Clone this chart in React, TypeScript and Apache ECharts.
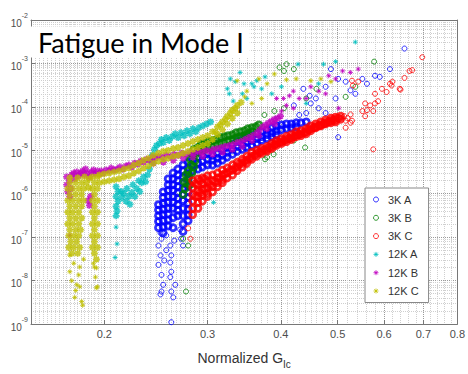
import { useEffect, useRef } from 'react';
import * as echarts from 'echarts';

type Pt = [number, number];

const seriesNames = ['3K A', '3K B', '3K C', '12K A', '12K B', '12K C'];
const seriesColors = ['#0000ff', '#008000', '#ff0000', '#00bfbf', '#bf00bf', '#bfbf00'];
const xTickValues = [0.2, 0.3, 0.4, 0.5, 0.6, 0.7, 0.8];
const yTickValues = [1e-9, 1e-8, 1e-7, 1e-6, 1e-5, 1e-4, 1e-3, 1e-2];
const xMin = 0.15;
const xMax = 0.8;
const yMin = 1e-9;
const yMax = 1e-2;

// ---------- 3K A (blue circles) ----------
const k3aSparse: Pt[] = [
  [0.2474, 2.3e-7], [0.2494, 1.25e-7], [0.2504, 9.2e-8], [0.2474, 6.4e-8], [0.2494, 3.8e-8], [0.2474, 2.3e-8],
  [0.2504, 1.35e-8], [0.252, 8.0e-9], [0.2504, 5.6e-9], [0.2494, 4.8e-9], [0.2551, 5.0e-8], [0.2592, 6.4e-8],
  [0.2602, 3.8e-8], [0.2592, 2.6e-8], [0.2602, 1.6e-8], [0.2592, 1.2e-8], [0.2643, 8.0e-9], [0.2602, 5.6e-9],
  [0.2622, 4.1e-9], [0.2602, 1.1e-9], [0.2694, 1.5e-7], [0.2704, 9.2e-8], [0.2725, 6.4e-8], [0.2551, 1.1e-7],
  [0.2632, 8.3e-8], [0.2531, 2.9e-8],
  [0.501, 4.4e-4], [0.516, 3.8e-4], [0.551, 4.4e-4], [0.579, 5.2e-4], [0.614, 7.4e-4], [0.65, 2.2e-3],
  [0.496, 1.56e-4], [0.501, 2.0e-5], [0.437, 2.6e-4], [0.448, 1.8e-4], [0.464, 9.3e-5], [0.421, 1.08e-4],
  [0.43, 6.5e-5], [0.459, 1.56e-4], [0.477, 2.9e-4], [0.526, 2.4e-4], [0.536, 2.0e-4], [0.561, 3.4e-4],
  [0.59, 4.9e-4], [0.477, 7.2e-5], [0.45, 1.2e-4], [0.487, 7.4e-4], [0.442, 7.2e-5],
];
const k3aDense: Pt[] = [
  [0.2474, 5.6e-7], [0.2474, 4.2e-7], [0.2474, 3.1e-7], [0.2474, 2.3e-7], [0.2474, 1.65e-7],
  [0.252, 1.1e-6], [0.252, 8.2e-7], [0.252, 6.0e-7], [0.252, 4.4e-7], [0.252, 3.3e-7], [0.252, 2.4e-7], [0.252, 1.7e-7], [0.252, 1.25e-7],
  [0.257, 2.2e-6], [0.257, 1.6e-6], [0.257, 1.2e-6], [0.257, 8.6e-7], [0.257, 6.4e-7], [0.257, 4.6e-7], [0.257, 3.4e-7], [0.257, 2.5e-7], [0.257, 1.8e-7],
  [0.262, 3.0e-6], [0.262, 2.2e-6], [0.262, 1.6e-6], [0.262, 1.2e-6], [0.262, 8.6e-7], [0.262, 6.4e-7], [0.262, 4.6e-7], [0.262, 2.8e-7], [0.262, 1.65e-7],
  [0.267, 3.7e-6], [0.267, 2.7e-6], [0.267, 2.0e-6], [0.267, 1.45e-6], [0.267, 1.05e-6], [0.267, 7.8e-7], [0.267, 5.6e-7], [0.267, 4.2e-7], [0.267, 3.1e-7],
  [0.2725, 4.6e-6], [0.2725, 3.4e-6], [0.2725, 2.4e-6], [0.2725, 1.8e-6], [0.2725, 1.3e-6], [0.2725, 9.6e-7], [0.2725, 7.0e-7], [0.2725, 4.6e-7], [0.2725, 3.1e-7], [0.2725, 2.0e-7], [0.2725, 1.35e-7],
  [0.278, 5.3e-6], [0.278, 3.9e-6], [0.278, 2.9e-6], [0.278, 2.1e-6], [0.278, 1.5e-6], [0.278, 1.1e-6], [0.278, 8.2e-7], [0.278, 6.0e-7], [0.278, 4.4e-7], [0.278, 3.25e-7], [0.278, 2.4e-7],
  [0.283, 6.2e-6], [0.283, 4.6e-6], [0.283, 3.4e-6],
  [0.289, 6.9e-6], [0.289, 5.0e-6], [0.289, 3.7e-6],
  [0.294, 7.7e-6], [0.294, 5.6e-6], [0.294, 4.1e-6],
  [0.3, 8.5e-6], [0.3, 6.2e-6], [0.3, 4.6e-6],
  [0.306, 7.7e-6], [0.306, 5.92e-6], [0.306, 4.56e-6],
  [0.312, 8.5e-6], [0.312, 6.57e-6], [0.312, 5.06e-6],
  [0.318, 9.95e-6], [0.318, 7.7e-6], [0.318, 5.92e-6],
  [0.324, 1.16e-5], [0.324, 8.97e-6], [0.324, 6.92e-6],
  [0.331, 1.36e-5], [0.331, 1.05e-5], [0.331, 8.1e-6],
  [0.337, 1.59e-5], [0.337, 1.23e-5], [0.337, 9.45e-6],
  [0.344, 1.77e-5], [0.344, 1.36e-5], [0.344, 1.05e-5],
  [0.35, 1.96e-5], [0.35, 1.51e-5], [0.35, 1.16e-5],
  [0.357, 2.17e-5], [0.357, 1.68e-5], [0.357, 1.29e-5],
  [0.364, 2.41e-5], [0.364, 1.86e-5], [0.364, 1.43e-5],
  [0.371, 2.68e-5], [0.371, 2.06e-5], [0.371, 1.68e-5],
  [0.379, 2.97e-5], [0.379, 2.29e-5], [0.379, 1.86e-5],
  [0.386, 3.3e-5], [0.386, 2.54e-5], [0.386, 2.06e-5],
  [0.393, 3.65e-5], [0.393, 2.82e-5], [0.393, 2.29e-5],
  [0.401, 3.85e-5], [0.401, 2.97e-5],
  [0.409, 4.05e-5], [0.409, 3.13e-5],
  [0.417, 4.05e-5], [0.417, 3.3e-5],
  [0.425, 4.3e-5], [0.425, 3.47e-5],
  [0.433, 4.3e-5], [0.442, 4.5e-5],
];

// ---------- 3K B (green circles) ----------
const k3bSparse: Pt[] = [
  [0.2757, 5.6e-9], [0.2725, 9.2e-8], [0.278, 6.4e-8], [0.376, 6.2e-6], [0.3889, 8.1e-6], [0.44, 1.16e-5],
  [0.421, 1.68e-5], [0.375, 6.5e-5], [0.39, 8.0e-5], [0.398, 8.1e-4], [0.409, 9.6e-4], [0.421, 7.4e-4],
  [0.405, 6.7e-4], [0.577, 1.1e-3], [0.536, 2.9e-4], [0.442, 1.56e-4], [0.516, 1.7e-4], [0.379, 6.9e-6],
  [0.405, 9.3e-5], [0.46, 2.6e-4],
];
const k3bDense: Pt[] = [
  [0.2725, 9.6e-7], [0.2746, 1.31e-6], [0.2767, 1.79e-6], [0.2789, 2.44e-6], [0.278, 3.34e-6], [0.2811, 4.56e-6],
  [0.28, 6.24e-6], [0.283, 7.7e-6], [0.2843, 1.05e-5], [0.2876, 8.5e-6], [0.289, 1.16e-5], [0.2854, 5.62e-6],
  [0.2822, 3.0e-6], [0.2757, 2.71e-6], [0.2736, 1.88e-6], [0.28, 1.61e-6], [0.2843, 4.11e-6],
  [0.2924, 1.36e-5], [0.2924, 1.0e-5], [0.2967, 1.43e-5], [0.2967, 1.05e-5], [0.3012, 1.59e-5], [0.3012, 1.16e-5],
  [0.306, 1.68e-5], [0.306, 1.23e-5], [0.3108, 1.77e-5], [0.3108, 1.36e-5], [0.3157, 1.96e-5], [0.3157, 1.43e-5],
  [0.3205, 2.06e-5], [0.3205, 1.51e-5], [0.3253, 2.17e-5], [0.3253, 1.68e-5], [0.331, 2.29e-5], [0.331, 1.77e-5],
  [0.3357, 2.54e-5], [0.3357, 1.96e-5], [0.3413, 2.68e-5], [0.3413, 2.06e-5], [0.3467, 2.82e-5], [0.3467, 2.17e-5],
  [0.3514, 3.13e-5], [0.3514, 2.41e-5], [0.357, 3.3e-5], [0.357, 2.68e-5], [0.3628, 3.47e-5], [0.367, 3.85e-5],
];

// ---------- 3K C (red circles) ----------
const k3cSparse: Pt[] = [
  [0.2805, 9.2e-8], [0.278, 1.6e-7], [0.697, 1.39e-3], [0.67, 7.0e-4], [0.65, 4.65e-4], [0.64, 2.5e-4],
  [0.62, 3.8e-4], [0.614, 3.4e-4], [0.606, 2.2e-4], [0.595, 2.6e-4], [0.579, 2.0e-4], [0.586, 1.35e-4],
  [0.579, 1.2e-4], [0.568, 1.08e-4], [0.557, 1.2e-4], [0.561, 8.4e-5], [0.551, 8.0e-5], [0.557, 6.1e-5],
  [0.575, 8.0e-5], [0.526, 4.3e-5], [0.516, 3.3e-5], [0.575, 1.05e-5], [0.542, 3.8e-4], [0.531, 3.1e-4],
  [0.529, 4.0e-4], [0.638, 2.6e-4], [0.663, 6.7e-4], [0.516, 4.8e-5], [0.529, 4.8e-5], [0.618, 3.1e-4],
  [0.513, 6.1e-5], [0.52, 5.5e-5], [0.526, 6.7e-5],
];
const k3cDense: Pt[] = [
  [0.283, 2.0e-6], [0.283, 1.38e-6], [0.283, 9.5e-7], [0.283, 6.7e-7], [0.283, 4.6e-7], [0.283, 3.3e-7],
  [0.286, 1.7e-6], [0.286, 8.6e-7],
  [0.289, 2.2e-6], [0.289, 1.6e-6], [0.289, 1.2e-6], [0.289, 8.6e-7], [0.289, 6.3e-7], [0.289, 4.6e-7],
  [0.2915, 1.99e-6], [0.2915, 1.06e-6],
  [0.294, 2.3e-6], [0.294, 1.7e-6], [0.294, 1.25e-6], [0.294, 9.1e-7], [0.294, 6.7e-7],
  [0.297, 2.2e-6], [0.297, 1.31e-6],
  [0.3, 2.6e-6], [0.3, 1.9e-6], [0.3, 1.38e-6], [0.3, 1.0e-6], [0.3, 8.6e-7],
  [0.303, 1.61e-6],
  [0.306, 2.7e-6], [0.306, 2.0e-6], [0.306, 1.45e-6], [0.306, 1.1e-6],
  [0.309, 1.88e-6],
  [0.312, 3.0e-6], [0.312, 2.3e-6], [0.312, 1.8e-6], [0.312, 1.45e-6],
  [0.315, 2.32e-6],
  [0.318, 3.5e-6], [0.318, 2.7e-6], [0.318, 2.1e-6], [0.318, 1.8e-6],
  [0.321, 2.86e-6],
  [0.324, 3.9e-6], [0.324, 3.0e-6], [0.324, 2.3e-6],
  [0.327, 3.34e-6],
  [0.331, 4.6e-6], [0.331, 3.5e-6], [0.331, 2.7e-6],
  [0.334, 3.9e-6],
  [0.337, 5.3e-6], [0.337, 4.1e-6], [0.337, 3.4e-6],
  [0.34, 4.81e-6],
  [0.344, 6.2e-6], [0.344, 5.0e-6], [0.344, 4.1e-6],
  [0.347, 5.62e-6],
  [0.35, 7.3e-6], [0.35, 5.9e-6], [0.35, 5.0e-6],
  [0.354, 6.57e-6],
  [0.357, 9.0e-6], [0.357, 7.3e-6], [0.357, 6.2e-6],
  [0.361, 7.7e-6],
  [0.364, 1.0e-5], [0.364, 8.5e-6], [0.364, 7.3e-6],
  [0.368, 8.97e-6],
  [0.371, 1.1e-5], [0.371, 9.5e-6], [0.371, 8.5e-6],
  [0.375, 1.02e-5],
  [0.379, 1.22e-5], [0.379, 1.05e-5], [0.379, 9.5e-6],
  [0.382, 1.16e-5],
  [0.386, 1.43e-5], [0.386, 1.22e-5], [0.386, 1.1e-5],
  [0.39, 1.33e-5],
  [0.393, 1.66e-5], [0.393, 1.43e-5], [0.393, 1.29e-5],
  [0.397, 1.51e-5],
  [0.401, 1.86e-5], [0.401, 1.58e-5], [0.401, 1.43e-5],
  [0.405, 1.68e-5],
  [0.409, 2.1e-5], [0.409, 1.8e-5], [0.409, 1.58e-5],
  [0.413, 1.86e-5],
  [0.417, 2.29e-5], [0.417, 1.96e-5], [0.417, 1.77e-5],
  [0.421, 2.06e-5],
  [0.425, 2.68e-5], [0.425, 2.29e-5], [0.425, 2.06e-5],
  [0.429, 2.29e-5],
  [0.433, 2.82e-5], [0.433, 2.41e-5], [0.433, 2.17e-5],
  [0.438, 2.54e-5],
  [0.442, 3.13e-5], [0.442, 2.68e-5], [0.442, 2.41e-5],
  [0.446, 2.97e-5],
  [0.45, 3.65e-5], [0.45, 3.13e-5], [0.45, 2.82e-5],
  [0.455, 3.3e-5],
  [0.459, 4.05e-5], [0.459, 3.47e-5], [0.459, 3.3e-5],
  [0.464, 3.65e-5],
  [0.468, 4.5e-5], [0.468, 3.85e-5], [0.468, 3.65e-5],
  [0.473, 4.05e-5],
  [0.477, 5.0e-5], [0.477, 4.3e-5], [0.477, 4.05e-5],
  [0.482, 4.5e-5],
  [0.487, 5.5e-5], [0.487, 4.7e-5], [0.487, 4.3e-5],
  [0.491, 5.0e-5],
  [0.496, 5.8e-5], [0.496, 5.0e-5], [0.496, 4.5e-5],
  [0.501, 5.5e-5],
  [0.506, 6.1e-5], [0.506, 5.2e-5],
];

// ---------- 12K A (cyan stars) ----------
const k12aSparse: Pt[] = [
  [0.2095, 1.7e-7], [0.2103, 7.0e-8], [0.2087, 3.4e-8], [0.3072, 6.3e-7], [0.3281, 4.4e-4], [0.3345, 3.8e-4],
  [0.3268, 2.0e-4], [0.3409, 6.2e-4], [0.3462, 3.4e-4], [0.35, 1.56e-4], [0.36, 2.9e-4], [0.364, 4.0e-4],
  [0.428, 9.6e-4], [0.464, 3.4e-4], [0.473, 9.6e-4], [0.496, 1.1e-3], [0.536, 3.1e-3], [0.371, 2.6e-4],
  [0.386, 2.0e-4], [0.401, 2.9e-4], [0.3319, 1.36e-4], [0.344, 2.0e-4], [0.376, 4.9e-4], [0.442, 1.2e-4],
  [0.3243, 2.6e-4], [0.357, 3.4e-4],
];
const k12aDense: Pt[] = [
  [0.2095, 1.45e-6], [0.2111, 1.12e-6], [0.2095, 8.6e-7], [0.2111, 6.7e-7], [0.2095, 5.1e-7], [0.2103, 4.0e-7],
  [0.2095, 3.1e-7], [0.2136, 1.12e-6], [0.2144, 8.2e-7], [0.2161, 1.01e-6], [0.2178, 6.7e-7], [0.2186, 1.31e-6],
  [0.2203, 8.6e-7], [0.2212, 5.7e-7], [0.2229, 1.06e-6], [0.2238, 1.61e-6], [0.2255, 8.6e-7], [0.2272, 1.31e-6],
  [0.229, 1.99e-6], [0.2299, 1.12e-6], [0.2317, 1.79e-6], [0.2334, 2.44e-6], [0.2352, 1.88e-6], [0.2371, 2.71e-6],
  [0.2389, 3.71e-6], [0.2408, 5.33e-6], [0.2417, 7.7e-6], [0.2436, 1.05e-5], [0.2455, 1.29e-5], [0.2484, 1.43e-5],
  [0.2503, 1.77e-5], [0.2522, 1.51e-5], [0.2551, 1.96e-5], [0.2581, 1.68e-5], [0.2612, 2.06e-5], [0.2642, 2.41e-5],
  [0.2673, 1.96e-5], [0.2704, 2.54e-5], [0.2736, 2.17e-5], [0.2767, 2.82e-5], [0.28, 2.41e-5], [0.2832, 3.13e-5],
  [0.2865, 2.68e-5], [0.2899, 3.3e-5], [0.2944, 3.65e-5], [0.299, 4.05e-5], [0.3036, 4.5e-5],
];

// ---------- 12K B (purple stars) ----------
const k12bSparse: Pt[] = [
  [0.1747, 1.1e-7], [0.4828, 5.2e-4], [0.5257, 6.2e-4], [0.5422, 7.4e-4], [0.5019, 9.3e-5], [0.4042, 1.56e-4],
  [0.4089, 1.08e-4], [0.4137, 1.8e-4], [0.4202, 9.3e-5], [0.4418, 1.56e-4], [0.4645, 2.3e-4], [0.4961, 4.4e-4],
  [0.5098, 6.7e-4], [0.3934, 1.56e-4], [0.4011, 8.0e-5], [0.4202, 2.3e-4], [0.43, 1.56e-4], [0.45, 2.9e-4],
  [0.477, 2.0e-4],
];
const k12bDense: Pt[] = [
  [0.1726, 2.44e-6], [0.1726, 1.61e-6], [0.1733, 1.12e-6], [0.1747, 8.6e-7], [0.1754, 1.31e-6], [0.1747, 1.99e-6],
  [0.176, 2.71e-6], [0.1774, 3.0e-6], [0.1781, 2.2e-6], [0.1795, 3.17e-6], [0.1809, 2.58e-6], [0.1823, 3.0e-6],
  [0.1837, 3.34e-6], [0.1851, 2.71e-6], [0.1858, 3.71e-6], [0.1873, 3.0e-6], [0.1887, 2.44e-6], [0.188, 7.0e-7],
  [0.1887, 5.4e-7], [0.1895, 8.6e-7], [0.1902, 3.17e-6], [0.1917, 3.52e-6], [0.1932, 2.86e-6], [0.1947, 3.34e-6],
  [0.1962, 2.86e-6], [0.1977, 3.34e-6], [0.1992, 3.0e-6], [0.2016, 3.52e-6], [0.2039, 3.34e-6], [0.2055, 3.9e-6],
  [0.2079, 3.52e-6], [0.2103, 3.71e-6], [0.2127, 4.11e-6], [0.2152, 3.71e-6], [0.2178, 4.33e-6], [0.2203, 4.56e-6],
  [0.2229, 4.11e-6], [0.2255, 5.06e-6], [0.2281, 4.81e-6], [0.2308, 5.62e-6], [0.2334, 5.33e-6], [0.2362, 6.24e-6],
  [0.2389, 5.92e-6], [0.2417, 6.92e-6], [0.2445, 6.57e-6], [0.2474, 7.3e-6], [0.2512, 6.92e-6], [0.2551, 7.7e-6],
  [0.2591, 7.3e-6], [0.2632, 8.1e-6], [0.2673, 7.7e-6], [0.2715, 8.5e-6], [0.2757, 8.1e-6], [0.28, 8.97e-6],
  [0.2843, 8.5e-6], [0.2888, 9.45e-6], [0.2933, 8.97e-6], [0.2978, 9.95e-6], [0.3024, 9.45e-6], [0.3072, 1.05e-5],
  [0.312, 1.1e-5], [0.3169, 1.16e-5], [0.3218, 1.23e-5], [0.3268, 1.29e-5], [0.3319, 1.36e-5], [0.3371, 1.51e-5],
  [0.3423, 1.59e-5], [0.3477, 1.77e-5], [0.3531, 1.96e-5], [0.3586, 2.17e-5], [0.3642, 2.54e-5], [0.3684, 2.97e-5],
  [0.3727, 3.47e-5], [0.3771, 3.85e-5], [0.3815, 4.3e-5], [0.3859, 4.7e-5], [0.3904, 5.2e-5], [0.3949, 5.5e-5],
  [0.3995, 6.1e-5],
  [0.2426, 5.06e-6], [0.2522, 5.33e-6], [0.2622, 5.92e-6], [0.2725, 6.57e-6], [0.2832, 6.92e-6], [0.2944, 7.3e-6],
  [0.306, 8.1e-6], [0.3181, 8.97e-6], [0.3306, 1.05e-5], [0.3436, 1.23e-5], [0.3572, 1.68e-5], [0.367, 2.17e-5],
  [0.3785, 3.13e-5], [0.3904, 4.05e-5],
];

// ---------- 12K C (olive-yellow stars) ----------
const k12cSparse: Pt[] = [
  [0.1747, 3.82e-8], [0.1816, 2.05e-8], [0.176, 9.9e-9], [0.1795, 8.0e-9], [0.1816, 7.2e-9], [0.1781, 4.1e-9],
  [0.183, 3.3e-9], [0.1837, 2.7e-9], [0.1774, 2.5e-8], [0.1809, 1.35e-8], [0.1747, 1.6e-8], [0.1844, 3.1e-8],
  [0.1788, 5.9e-9], [0.1924, 2.05e-8], [0.1939, 1.95e-8], [0.1947, 7.2e-9], [0.1939, 6.8e-9], [0.1932, 1.2e-8],
  [0.1917, 2.5e-8],
  [0.337, 4.0e-4], [0.35, 2.3e-4], [0.367, 4.4e-4], [0.39, 5.7e-4], [0.409, 4.2e-4], [0.425, 4.4e-4],
  [0.45, 4.0e-4], [0.468, 4.4e-4], [0.487, 3.8e-4], [0.371, 1.56e-4], [0.357, 1.2e-4], [0.379, 3.4e-4],
  [0.347, 1.7e-4],
];
const k12cDense: Pt[] = [
  [0.1747, 2.32e-6], [0.1802, 2.32e-6], [0.1851, 2.44e-6], [0.1887, 2.2e-6], [0.1866, 1.79e-6], [0.188, 1.38e-6],
  [0.1747, 1.79e-6], [0.1788, 1.79e-6], [0.183, 1.79e-6],
  [0.1733, 1.31e-6], [0.1767, 1.31e-6], [0.1809, 1.31e-6], [0.1844, 1.31e-6],
  [0.1747, 9.6e-7], [0.1788, 9.6e-7], [0.183, 9.6e-7],
  [0.1733, 7.0e-7], [0.1767, 7.0e-7], [0.1809, 7.0e-7], [0.1844, 7.0e-7],
  [0.1747, 5.14e-7], [0.1788, 5.14e-7], [0.183, 5.14e-7],
  [0.1733, 3.76e-7], [0.1767, 3.76e-7], [0.1809, 3.76e-7],
  [0.1747, 2.76e-7], [0.1788, 2.76e-7], [0.183, 2.76e-7],
  [0.1733, 2.02e-7], [0.1767, 2.02e-7], [0.1809, 2.02e-7],
  [0.1747, 1.48e-7], [0.1788, 1.48e-7], [0.1823, 1.48e-7],
  [0.174, 1.08e-7], [0.1774, 1.08e-7], [0.1809, 1.08e-7],
  [0.1754, 7.9e-8], [0.1795, 7.9e-8],
  [0.174, 5.8e-8], [0.1774, 5.8e-8], [0.1816, 5.8e-8],
  [0.176, 4.24e-8], [0.1802, 4.24e-8],
  [0.1909, 2.44e-6], [0.1947, 2.44e-6], [0.1924, 1.79e-6], [0.1909, 1.31e-6], [0.1947, 1.31e-6], [0.1924, 9.6e-7],
  [0.1909, 7.0e-7], [0.1947, 7.0e-7], [0.1924, 5.14e-7], [0.1909, 3.76e-7], [0.1947, 3.76e-7], [0.1924, 2.76e-7],
  [0.1909, 2.02e-7], [0.1947, 2.02e-7], [0.1924, 1.48e-7], [0.1909, 1.08e-7], [0.1947, 1.08e-7], [0.1924, 7.9e-8],
  [0.1909, 5.8e-8], [0.1947, 5.8e-8], [0.1924, 4.24e-8], [0.1939, 3.1e-8],
  [0.1962, 2.71e-6], [0.1962, 1.79e-6], [0.2, 2.86e-6], [0.2, 1.88e-6], [0.2039, 3.0e-6], [0.2039, 1.99e-6],
  [0.2079, 3.17e-6], [0.2079, 2.09e-6], [0.2119, 3.34e-6], [0.2119, 2.2e-6], [0.2161, 3.71e-6], [0.2161, 2.44e-6],
  [0.2203, 3.9e-6], [0.2203, 2.58e-6], [0.2246, 4.56e-6], [0.2246, 3.0e-6], [0.229, 5.06e-6], [0.229, 3.34e-6],
  [0.2334, 5.92e-6], [0.2334, 3.9e-6], [0.238, 6.57e-6], [0.238, 4.33e-6], [0.2426, 7.7e-6], [0.2426, 5.06e-6],
  [0.2474, 8.5e-6], [0.2474, 5.62e-6], [0.2522, 9.45e-6], [0.2522, 6.24e-6], [0.2571, 9.95e-6], [0.2571, 6.57e-6],
  [0.2622, 1.1e-5], [0.2622, 7.3e-6], [0.2673, 1.16e-5], [0.2673, 7.7e-6], [0.2725, 1.29e-5], [0.2725, 8.5e-6],
  [0.2778, 1.43e-5], [0.2778, 9.45e-6], [0.2832, 1.59e-5], [0.2832, 1.05e-5], [0.2888, 1.77e-5], [0.2888, 1.16e-5],
  [0.2944, 1.96e-5], [0.2944, 1.29e-5], [0.3001, 2.17e-5], [0.3001, 1.43e-5], [0.306, 2.68e-5], [0.306, 1.77e-5],
  [0.312, 3.47e-5], [0.312, 2.29e-5], [0.3181, 4.5e-5], [0.3181, 2.97e-5], [0.3243, 6.1e-5], [0.3243, 4.05e-5],
  [0.3306, 8.4e-5], [0.3306, 5.5e-5], [0.3371, 1.08e-4], [0.3371, 7.2e-5], [0.3423, 1.27e-4],
  [0.3096, 2.68e-5], [0.3156, 3.85e-5], [0.3218, 5.2e-5], [0.3281, 7.2e-5], [0.3345, 9.3e-5],
];

const groups = [
  { sparse: k3aSparse, dense: k3aDense, star: false },
  { sparse: k3bSparse, dense: k3bDense, star: false },
  { sparse: k3cSparse, dense: k3cDense, star: false },
  { sparse: k12aSparse, dense: k12aDense, star: true },
  { sparse: k12bSparse, dense: k12bDense, star: true },
  { sparse: k12cSparse, dense: k12cDense, star: true },
];

const STAR = 'path://M4,0L4,8M0,4L8,4M1.2,1.2L6.8,6.8M1.2,6.8L6.8,1.2';

// grid-line positions (minor log grid)
function buildYMinor(): number[] {
  const out: number[] = [];
  for (let e = -9; e <= -3; e++) {
    for (let m = 2; m <= 9; m++) out.push(Number((m * Math.pow(10, e)).toPrecision(3)));
  }
  return out;
}
function buildXMinor(): number[] {
  const out: number[] = [];
  const add = (a: number, b: number, s: number) => {
    for (let v = a; v < b - 1e-9; v += s) {
      const r = Number(v.toFixed(4));
      if (Math.abs(r * 10 - Math.round(r * 10)) > 1e-6) out.push(r);
    }
  };
  add(0.1525, 0.2, 0.0025);
  add(0.2, 0.3, 0.005);
  add(0.3, 0.5, 0.01);
  add(0.5, 0.8, 0.02);
  return out;
}
const yMinor = buildYMinor();
const xMinor = buildXMinor();

const FONT = '"Liberation Sans", Arial, sans-serif';

export default function App() {
  const ref = useRef<HTMLDivElement>(null);
  useEffect(() => {
    if (!ref.current) return;
    const chart = echarts.init(ref.current, undefined, { renderer: 'svg' });
    const series: any[] = [];
    groups.forEach((g, i) => {
      const color = seriesColors[i];
      const symbol = g.star ? STAR : 'circle';
      series.push({
        type: 'scatter', name: seriesNames[i], data: g.sparse, symbol, symbolSize: 5, silent: true,
        itemStyle: { color: 'rgba(0,0,0,0)', borderColor: color, borderWidth: 1 },
      });
      series.push({
        type: 'scatter', name: seriesNames[i], data: g.dense, symbol, symbolSize: g.star ? 7 : 6, silent: true,
        itemStyle: { color: 'rgba(0,0,0,0)', borderColor: color, borderWidth: g.star ? 1.7 : 2.8 },
      });
    });
    chart.setOption({
      animation: false,
      backgroundColor: '#ffffff',
      title: {
        text: 'Fatigue in Mode I',
        left: 31,
        top: 28,
        padding: [2, 6, 2, 7],
        backgroundColor: '#ffffff',
        textStyle: { fontFamily: 'Lato', fontSize: 27, fontWeight: 'normal', color: '#000000', lineHeight: 24 },
      },
      legend: {
        data: seriesNames,
        orient: 'vertical',
        left: 365,
        top: 188,
        padding: [6, 10, 6, 8],
        itemWidth: 14,
        itemHeight: 5,
        itemGap: 7.3,
        backgroundColor: '#ffffff',
        borderColor: '#888888',
        borderWidth: 1,
        borderRadius: 0,
        itemStyle: { borderWidth: 1 },
        textStyle: { fontFamily: FONT, fontSize: 11, color: '#333333' },
        selectedMode: false,
      },
      grid: { left: 31, right: 5, top: 20, bottom: 44, show: false },
      xAxis: [
        {
          type: 'log', logBase: 10, min: xMin, max: xMax, position: 'bottom',
          name: '{n|Normalized G}{s|Ic}', nameLocation: 'middle', nameGap: 23,
          nameTextStyle: {
            rich: {
              n: { fontFamily: FONT, fontSize: 14, color: '#333333' },
              s: { fontFamily: FONT, fontSize: 10, color: '#333333', padding: [12, 0, 0, 0] },
            },
          },
          axisLine: { show: true, onZero: false, lineStyle: { color: '#777777', width: 1 } },
          axisTick: { show: true, inside: true, length: 4, customValues: xTickValues, lineStyle: { color: '#777777' } },
          axisLabel: {
            customValues: xTickValues, margin: 4, color: '#4d4d4d', fontFamily: FONT, fontSize: 11,
            formatter: (v: number) => String(Number(v.toFixed(2))),
          },
          splitLine: { show: true, lineStyle: { type: 'dotted', color: '#9a9a9a', width: 1 } },
        },
        {
          type: 'log', logBase: 10, min: xMin, max: xMax, position: 'top',
          axisLine: { show: true, onZero: false, lineStyle: { color: '#777777', width: 1 } },
          axisTick: { show: false, customValues: xMinor },
          axisLabel: { show: false },
          splitLine: { show: true, lineStyle: { type: 'dotted', color: '#cfcfcf', width: 1 } },
        },
      ],
      yAxis: [
        {
          type: 'log', logBase: 10, min: yMin, max: yMax, position: 'left',
          axisLine: { show: true, onZero: false, lineStyle: { color: '#777777', width: 1 } },
          axisTick: { show: true, inside: true, length: 4, customValues: yTickValues, lineStyle: { color: '#777777' } },
          axisLabel: {
            customValues: yTickValues, margin: 3,
            formatter: (v: number) => `{b|10}{s|${Math.round(Math.log10(v))}}`,
            rich: {
              b: { fontFamily: FONT, fontSize: 10, color: '#4d4d4d', padding: [6, 0, 0, 0] },
              s: { fontFamily: FONT, fontSize: 7, color: '#4d4d4d', padding: [0, 0, 10, 0] },
            },
          },
          splitLine: { show: true, lineStyle: { type: 'dotted', color: '#9a9a9a', width: 1 } },
        },
        {
          type: 'log', logBase: 10, min: yMin, max: yMax, position: 'right',
          axisLine: { show: true, onZero: false, lineStyle: { color: '#777777', width: 1 } },
          axisTick: { show: false, customValues: yMinor },
          axisLabel: { show: false },
          splitLine: { show: true, lineStyle: { type: 'dotted', color: '#cfcfcf', width: 1 } },
        },
      ],
      series,
    });
    return () => chart.dispose();
  }, []);
  return <div ref={ref} style={{ position: 'absolute', left: 0, top: 0, width: 468, height: 374 }} />;
}
